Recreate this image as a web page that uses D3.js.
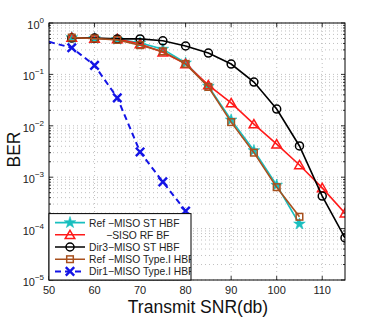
<!DOCTYPE html>
<html>
<head>
<meta charset="utf-8">
<script src="https://cdn.jsdelivr.net/npm/d3@7"></script>
<style>
  body { margin: 0; background: #fff; }
  svg { display: block; font-family: "Liberation Sans", Arial, sans-serif; }
</style>
</head>
<body>
<svg id="chart" width="380" height="318"></svg>
<script>
// data
const snr = [55, 60, 65, 70, 75, 80, 85, 90, 95, 100, 105, 110, 115];
const refMisoSt = [0.52, 0.5, 0.48, 0.41, 0.31, 0.167, 0.059, 0.013, 0.0033, 0.0007, 0.000123];
const sisoRf = [0.52, 0.5, 0.49, 0.39, 0.27, 0.16, 0.062, 0.0278, 0.0108, 0.0044, 0.00173, 0.00062, 0.0002];
const dir3MisoSt = [0.51, 0.51, 0.49, 0.49, 0.45, 0.357, 0.26, 0.159, 0.071, 0.0212, 0.00405, 0.00043, 0.000066];
const refMisoType1 = [0.52, 0.5, 0.47, 0.37, 0.28, 0.16, 0.057, 0.0118, 0.003, 0.00064, 0.00017];
const dir1Snr = [50, 55, 60, 65, 70, 75, 80];
const dir1MisoType1 = [0.43, 0.33, 0.15, 0.035, 0.0031, 0.00081, 0.00022];

const xTicks = [50, 60, 70, 80, 90, 100, 110];
const yDecades = [0, -1, -2, -3, -4, -5];

const series = [
  { name: 'Ref \u2212MISO ST HBF', x: snr, y: refMisoSt, color: '#19bfbf', marker: 'star', dash: null },
  { name: '      \u2212SISO RF BF', x: snr, y: sisoRf, color: '#ff1a1a', marker: 'tri', dash: null },
  { name: 'Dir3\u2212MISO ST HBF', x: snr, y: dir3MisoSt, color: '#000000', marker: 'circle', dash: null },
  { name: 'Ref \u2212MISO Type.I HBF', x: snr, y: refMisoType1, color: '#a8501e', marker: 'square', dash: null },
  { name: 'Dir1\u2212MISO Type.I HBF', x: dir1Snr, y: dir1MisoType1, color: '#1414e6', marker: 'cross', dash: '6,4' }
];

const margin = { top: 23, right: 35, bottom: 38, left: 49 };
const W = 380, H = 318;
const width = W - margin.left - margin.right;
const height = H - margin.top - margin.bottom;

const svg = d3.select('#chart');
const g = svg.append('g').attr('transform', `translate(${margin.left},${margin.top})`);

const x = d3.scaleLinear().domain([50, 115]).range([0, width]);
const y = d3.scaleLog().domain([1e-5, 1]).range([height, 0]);

g.append('defs').append('clipPath').attr('id', 'clip')
  .append('rect').attr('width', width).attr('height', height);

// grid
const minorY = [];
yDecades.forEach(e => { for (let k = 1; k < 10; k++) { const v = k * Math.pow(10, e - 1); if (v >= 1e-5) minorY.push(v); } });
minorY.push(1);

g.append('g').selectAll('line').data(minorY).join('line')
  .attr('x1', 0).attr('x2', width)
  .attr('y1', d => y(d)).attr('y2', d => y(d))
  .attr('stroke', '#b0b0b0').attr('stroke-width', 0.8).attr('stroke-dasharray', '1,3');

g.append('g').selectAll('line').data(xTicks.slice(1)).join('line')
  .attr('x1', d => x(d)).attr('x2', d => x(d))
  .attr('y1', 0).attr('y2', height)
  .attr('stroke', '#b0b0b0').attr('stroke-width', 0.8).attr('stroke-dasharray', '1,3');

// ticks (inside, on all four sides)
const tk = g.append('g').attr('stroke', '#000').attr('stroke-width', 0.8);
xTicks.forEach(v => {
  tk.append('line').attr('x1', x(v)).attr('x2', x(v)).attr('y1', height).attr('y2', height - 4);
  tk.append('line').attr('x1', x(v)).attr('x2', x(v)).attr('y1', 0).attr('y2', 4);
});
minorY.forEach(v => {
  const major = Math.abs(Math.log10(v) - Math.round(Math.log10(v))) < 1e-6;
  const len = major ? 4 : 2;
  tk.append('line').attr('x1', 0).attr('x2', len).attr('y1', y(v)).attr('y2', y(v));
  tk.append('line').attr('x1', width).attr('x2', width - len).attr('y1', y(v)).attr('y2', y(v));
});

// x tick labels
g.append('g').selectAll('text').data(xTicks).join('text')
  .attr('x', d => x(d)).attr('y', height + 14)
  .attr('text-anchor', 'middle').attr('font-size', 11).attr('fill', '#222')
  .text(d => d);

// y tick labels 10^e
const yl = g.append('g').selectAll('text').data(yDecades).join('text')
  .attr('x', -5).attr('y', d => y(Math.pow(10, d)) + 6)
  .attr('text-anchor', 'end').attr('font-size', 11).attr('fill', '#222');
yl.append('tspan').text('10');
yl.append('tspan').attr('dy', -6).attr('font-size', 8).text(d => d === 0 ? '0' : '\u2212' + (-d));

// series
const line = d3.line().x(d => x(d[0])).y(d => y(d[1]));
const plot = g.append('g').attr('clip-path', 'url(#clip)');

function drawMarker(sel, type, color) {
  if (type === 'circle') {
    sel.append('circle').attr('r', 4).attr('fill', 'none').attr('stroke', color).attr('stroke-width', 1.5);
  } else if (type === 'square') {
    sel.append('rect').attr('x', -3.3).attr('y', -3.3).attr('width', 6.6).attr('height', 6.6)
      .attr('fill', 'none').attr('stroke', color).attr('stroke-width', 1.5);
  } else if (type === 'tri') {
    sel.append('path').attr('d', d3.symbol(d3.symbolTriangle, 40)())
      .attr('transform', 'translate(0,1)')
      .attr('fill', 'none').attr('stroke', color).attr('stroke-width', 1.5);
  } else if (type === 'star') {
    sel.append('path').attr('d', d3.symbol(d3.symbolStar, 42)())
      .attr('fill', color).attr('stroke', color).attr('stroke-width', 0.6);
  } else if (type === 'cross') {
    const s = 4.2;
    sel.append('path').attr('d', `M${-s},${-s}L${s},${s}M${-s},${s}L${s},${-s}`)
      .attr('stroke', color).attr('stroke-width', 2.4).attr('fill', 'none');
  }
}

series.forEach(s => {
  const pts = s.x.slice(0, s.y.length).map((v, i) => [v, s.y[i]]);
  plot.append('path').datum(pts)
    .attr('d', line).attr('fill', 'none')
    .attr('stroke', s.color).attr('stroke-width', s.dash ? 2 : 1.6)
    .attr('stroke-dasharray', s.dash);
  plot.append('g').selectAll('g').data(pts.filter(p => p[0] > 50)).join('g')
    .attr('transform', d => `translate(${x(d[0])},${y(d[1])})`)
    .each(function () { drawMarker(d3.select(this), s.marker, s.color); });
});

// frame
g.append('rect').attr('width', width).attr('height', height)
  .attr('fill', 'none').attr('stroke', '#000').attr('stroke-width', 1);

// legend
const lgX = 0, lgY = y(1e-4) - 15, lgW = 142, lgH = height - (y(1e-4) - 15);
const lg = g.append('g');
lg.append('rect').attr('x', lgX).attr('y', lgY).attr('width', lgW).attr('height', lgH)
  .attr('fill', '#fff').attr('stroke', '#000').attr('stroke-width', 1);
const lgClip = g.append('defs').append('clipPath').attr('id', 'lgclip');
lgClip.append('rect').attr('x', lgX).attr('y', lgY).attr('width', lgW).attr('height', lgH);
const rows = lg.append('g').attr('clip-path', 'url(#lgclip)')
  .selectAll('g').data(series).join('g')
  .attr('transform', (d, i) => `translate(${lgX},${lgY + 9 + i * 12.2})`);
rows.append('line').attr('x1', 6).attr('x2', 36)
  .attr('stroke', d => d.color).attr('stroke-width', d => d.dash ? 2 : 1.6)
  .attr('stroke-dasharray', d => d.dash);
rows.append('g').attr('transform', 'translate(21,0)')
  .each(function (d) { drawMarker(d3.select(this), d.marker, d.color); });
rows.append('text').attr('x', 40).attr('y', 4)
  .attr('font-size', 10.3).attr('fill', '#222')
  .attr('xml:space', 'preserve').style('white-space', 'pre')
  .text(d => d.name);

// axis titles
svg.append('text')
  .attr('x', margin.left + width / 2 + 1).attr('y', H - 5)
  .attr('text-anchor', 'middle').attr('font-size', 17.5).attr('fill', '#111')
  .text('Transmit SNR(db)');
svg.append('text')
  .attr('transform', `translate(20,${margin.top + height / 2 - 2}) rotate(-90)`)
  .attr('text-anchor', 'middle').attr('font-size', 17.5).attr('fill', '#111')
  .text('BER');
</script>
</body>
</html>
